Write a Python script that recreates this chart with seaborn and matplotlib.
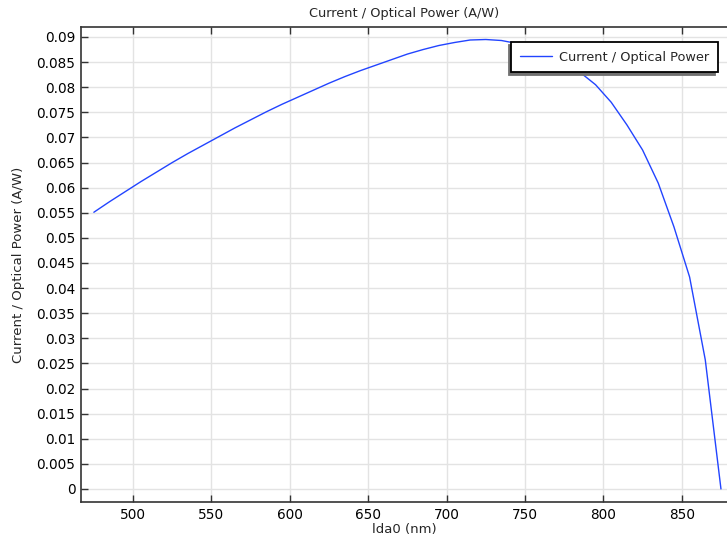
import matplotlib
matplotlib.use("Agg")
import matplotlib.pyplot as plt
import seaborn as sns
import pandas as pd

# wavelength (nm) and responsivity (A/W)
lda0 = [475, 485, 495, 505, 515, 525, 535, 545, 555, 565, 575, 585, 595, 605,
        615, 625, 635, 645, 655, 665, 675, 685, 695, 705, 715, 725, 735, 745,
        755, 765, 775, 785, 795, 805, 815, 825, 835, 845, 855, 865, 875]
responsivity = [0.0551, 0.0572, 0.0592, 0.0612, 0.0631, 0.0650, 0.0668, 0.0685,
                0.0702, 0.0719, 0.0735, 0.0751, 0.0766, 0.0780, 0.0794, 0.0808,
                0.0821, 0.0833, 0.0844, 0.0855, 0.0866, 0.0875, 0.0883, 0.0889,
                0.0894, 0.0895, 0.0893, 0.0887, 0.0878, 0.0865, 0.0849, 0.0830,
                0.0805, 0.0770, 0.0725, 0.0675, 0.0609, 0.0522, 0.0422, 0.0257,
                0.0]
x_ticks = [500, 550, 600, 650, 700, 750, 800, 850]
y_ticks = [i * 0.005 for i in range(19)]

df = pd.DataFrame({"lda0": lda0, "value": responsivity})

sns.set_theme(style="whitegrid")
plt.rcParams['font.family'] = ['DejaVu Sans']

fig = plt.figure(figsize=(7.27, 5.39), dpi=100)
ax = fig.add_axes([0.1114, 0.0686, 0.8900, 0.8814])

sns.lineplot(data=df, x="lda0", y="value", ax=ax, color="#2244ff",
             linewidth=1.0, label="Current / Optical Power")

ax.set_xlim(466.8, 879.5)
ax.set_ylim(-0.0026, 0.0920)
ax.set_xticks(x_ticks)
ax.set_yticks(y_ticks)
ax.set_yticklabels(["0" if v == 0 else f"{v:.3f}".rstrip("0") for v in y_ticks])

ax.set_facecolor("white")
ax.grid(True, color="#e3e3e3", linewidth=1.0)
for side in ["left", "bottom", "top"]:
    ax.spines[side].set_color("#333333")
    ax.spines[side].set_linewidth(1.2)
ax.spines["right"].set_visible(False)

ax.tick_params(axis="both", direction="in", length=5, width=1.0,
               color="#333333", labelsize=9.8, labelcolor="black", pad=4)
ax.tick_params(axis="x", top=True, bottom=True)
ax.tick_params(axis="y", left=True, right=False)

ax.set_title("Current / Optical Power (A/W)", fontsize=9.3, pad=7)
ax.set_xlabel("lda0 (nm)", fontsize=9.5, labelpad=1)
ax.set_ylabel("Current / Optical Power (A/W)", fontsize=9.5, labelpad=8)

leg = ax.legend(loc="upper right", bbox_to_anchor=(0.984, 0.968),
                borderaxespad=0, fontsize=9.3, frameon=True, fancybox=False,
                shadow={"ox": -1.8, "oy": -2.4, "color": "#707070", "alpha": 1.0},
                edgecolor="black", borderpad=0.65, handlelength=2.5,
                handletextpad=0.55)
leg.get_frame().set_linewidth(1.3)

fig.savefig("out.png", dpi=100)
